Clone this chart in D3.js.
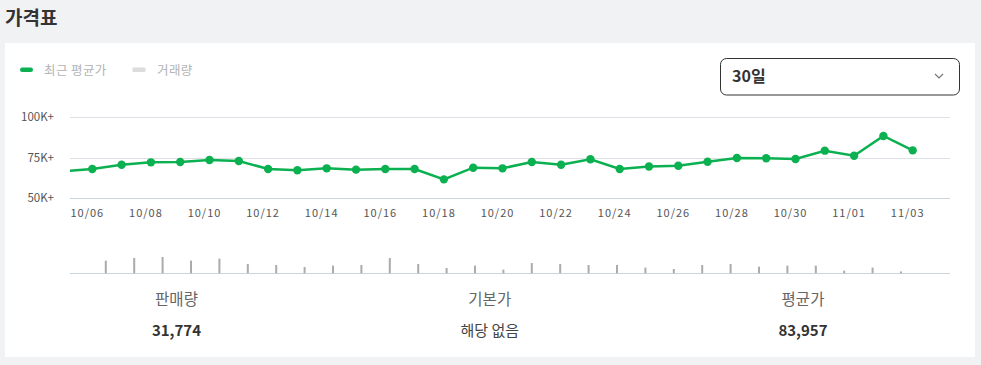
<!DOCTYPE html>
<html><head><meta charset="utf-8">
<script src="https://cdn.jsdelivr.net/npm/d3@7"></script>
<style>
html,body{margin:0;padding:0;background:#f1f2f4;}
svg{display:block;font-family:"Noto Sans CJK KR","Noto Sans",sans-serif;}
</style></head>
<body><svg id="c" width="981" height="365"></svg>
<script>
const dates = ["10/05","10/06","10/07","10/08","10/09","10/10","10/11","10/12","10/13","10/14","10/15","10/16","10/17","10/18","10/19","10/20","10/21","10/22","10/23","10/24","10/25","10/26","10/27","10/28","10/29","10/30","10/31","11/01","11/02","11/03"];
const avgPrice = [66700,68100,70700,72200,72400,73600,73000,68100,67300,68500,67700,68100,68100,61700,68900,68500,72400,70700,74100,68100,69600,70100,72600,74900,74700,74300,79400,76300,88500,79600];
const volumeDates = dates.slice(1);
const volume = [1620,1950,2080,1620,1880,1190,1060,800,980,1060,1950,1190,680,980,470,1310,1190,1060,1060,730,550,1060,1190,850,980,980,340,730,234];
const yTicks = [50000,75000,100000];
const yTickLabels = ["50K+","75K+","100K+"];
const xTickLabels = ["10/06","10/08","10/10","10/12","10/14","10/16","10/18","10/20","10/22","10/24","10/26","10/28","10/30","11/01","11/03"];
const legendItems = ["최근 평균가","거래량"];
const statLabels = ["판매량","기본가","평균가"];
const statValues = ["31,774","해당 없음","83,957"];
const title = "가격표";
const periodLabel = "30일";

const svg = d3.select("#c");
const GREEN = "#0bb050";

// title
svg.append("text").attr("x",5).attr("y",25).attr("font-size",19).attr("font-weight",700)
  .attr("fill","#333").text(title);
// card
svg.append("rect").attr("x",5).attr("y",43).attr("width",970).attr("height",314).attr("fill","#fff");

// legend
const lg = svg.append("g");
lg.append("rect").attr("x",20).attr("y",67.5).attr("width",13).attr("height",4.5).attr("rx",2.2).attr("fill",GREEN);
lg.append("text").attr("x",44).attr("y",74.5).attr("font-size",12.5).attr("letter-spacing",0.4).attr("fill","#b3b3b3").text(legendItems[0]);
lg.append("rect").attr("x",132.5).attr("y",67.5).attr("width",13).attr("height",4.5).attr("rx",1).attr("fill","#dcdcdc");
lg.append("text").attr("x",157).attr("y",74.5).attr("font-size",12.5).attr("letter-spacing",0.4).attr("fill","#b3b3b3").text(legendItems[1]);

// dropdown
svg.append("rect").attr("x",720.5).attr("y",58.5).attr("width",239).attr("height",36.5).attr("rx",6)
  .attr("fill","#fff").attr("stroke","#333").attr("stroke-width",1);
svg.append("text").attr("x",732).attr("y",81.5).attr("font-size",16).attr("font-weight",600).attr("fill","#333").text(periodLabel);
svg.append("path").attr("d","M935,74 L939,78 L943,74").attr("fill","none").attr("stroke","#777").attr("stroke-width",1.2);

// scales
const x = d3.scalePoint().domain(dates).range([63, 912.7]);
const y = d3.scaleLinear().domain([50000,100000]).range([198.3,117.3]);
const plotL = 70, plotR = 950;

// grid
const grid = svg.append("g");
grid.selectAll("line").data(yTicks).join("line")
  .attr("x1",plotL).attr("x2",plotR).attr("y1",d=>Math.round(y(d))+0.5).attr("y2",d=>Math.round(y(d))+0.5)
  .attr("stroke",(d,i)=>i===0?"#cbd5de":"#dde1e5").attr("stroke-width",1);
grid.selectAll("text").data(yTicks).join("text")
  .attr("x",54).attr("y",d=>y(d)+4).attr("text-anchor","end").attr("font-size",11.5).attr("fill","#555")
  .text((d,i)=>yTickLabels[i]);

// x labels
svg.append("g").selectAll("text").data(xTickLabels).join("text")
  .attr("x",d=>x(d)-5).attr("y",217).attr("text-anchor","middle").attr("font-size",11)
  .attr("letter-spacing",1).attr("fill","#555").text(d=>d);

// clip
svg.append("clipPath").attr("id","clip").append("rect").attr("x",plotL).attr("y",100).attr("width",plotR-plotL).attr("height",110);

const line = d3.line().x((d,i)=>x(dates[i])).y(d=>y(d));
const pg = svg.append("g").attr("clip-path","url(#clip)");
pg.append("path").datum(avgPrice).attr("d",line).attr("fill","none").attr("stroke",GREEN).attr("stroke-width",2.5);
pg.selectAll("circle").data(avgPrice).join("circle")
  .attr("cx",(d,i)=>x(dates[i])).attr("cy",d=>y(d)).attr("r",4.2).attr("fill",GREEN);

// volume
const xv = d3.scalePoint().domain(volumeDates).range([105.8, 901]);
const yv = d3.scaleLinear().domain([0,4000]).range([273.3, 242]);
svg.append("line").attr("x1",plotL).attr("x2",plotR).attr("y1",273.5).attr("y2",273.5).attr("stroke","#c9d5df").attr("stroke-width",1);
svg.append("g").selectAll("rect").data(volume).join("rect")
  .attr("x",(d,i)=>xv(volumeDates[i])-1).attr("width",2)
  .attr("y",d=>yv(d)).attr("height",d=>yv(0)-yv(d)).attr("fill","#ababab");

// stats
const sx = d3.scalePoint().domain(statLabels).range([176.5, 803]);
const st = svg.append("g");
st.selectAll("text.l").data(statLabels).join("text").attr("class","l")
  .attr("x",d=>sx(d)).attr("y",304.5).attr("text-anchor","middle").attr("font-size",15.5).attr("fill","#666").text(d=>d);
st.selectAll("text.v").data(statValues).join("text").attr("class","v")
  .attr("x",(d,i)=>sx(statLabels[i])).attr("y",335.5).attr("text-anchor","middle").attr("font-size",15)
  .attr("font-weight",(d,i)=>i===1?400:700).attr("fill",(d,i)=>i===1?"#444":"#333").text(d=>d);
</script></body></html>
